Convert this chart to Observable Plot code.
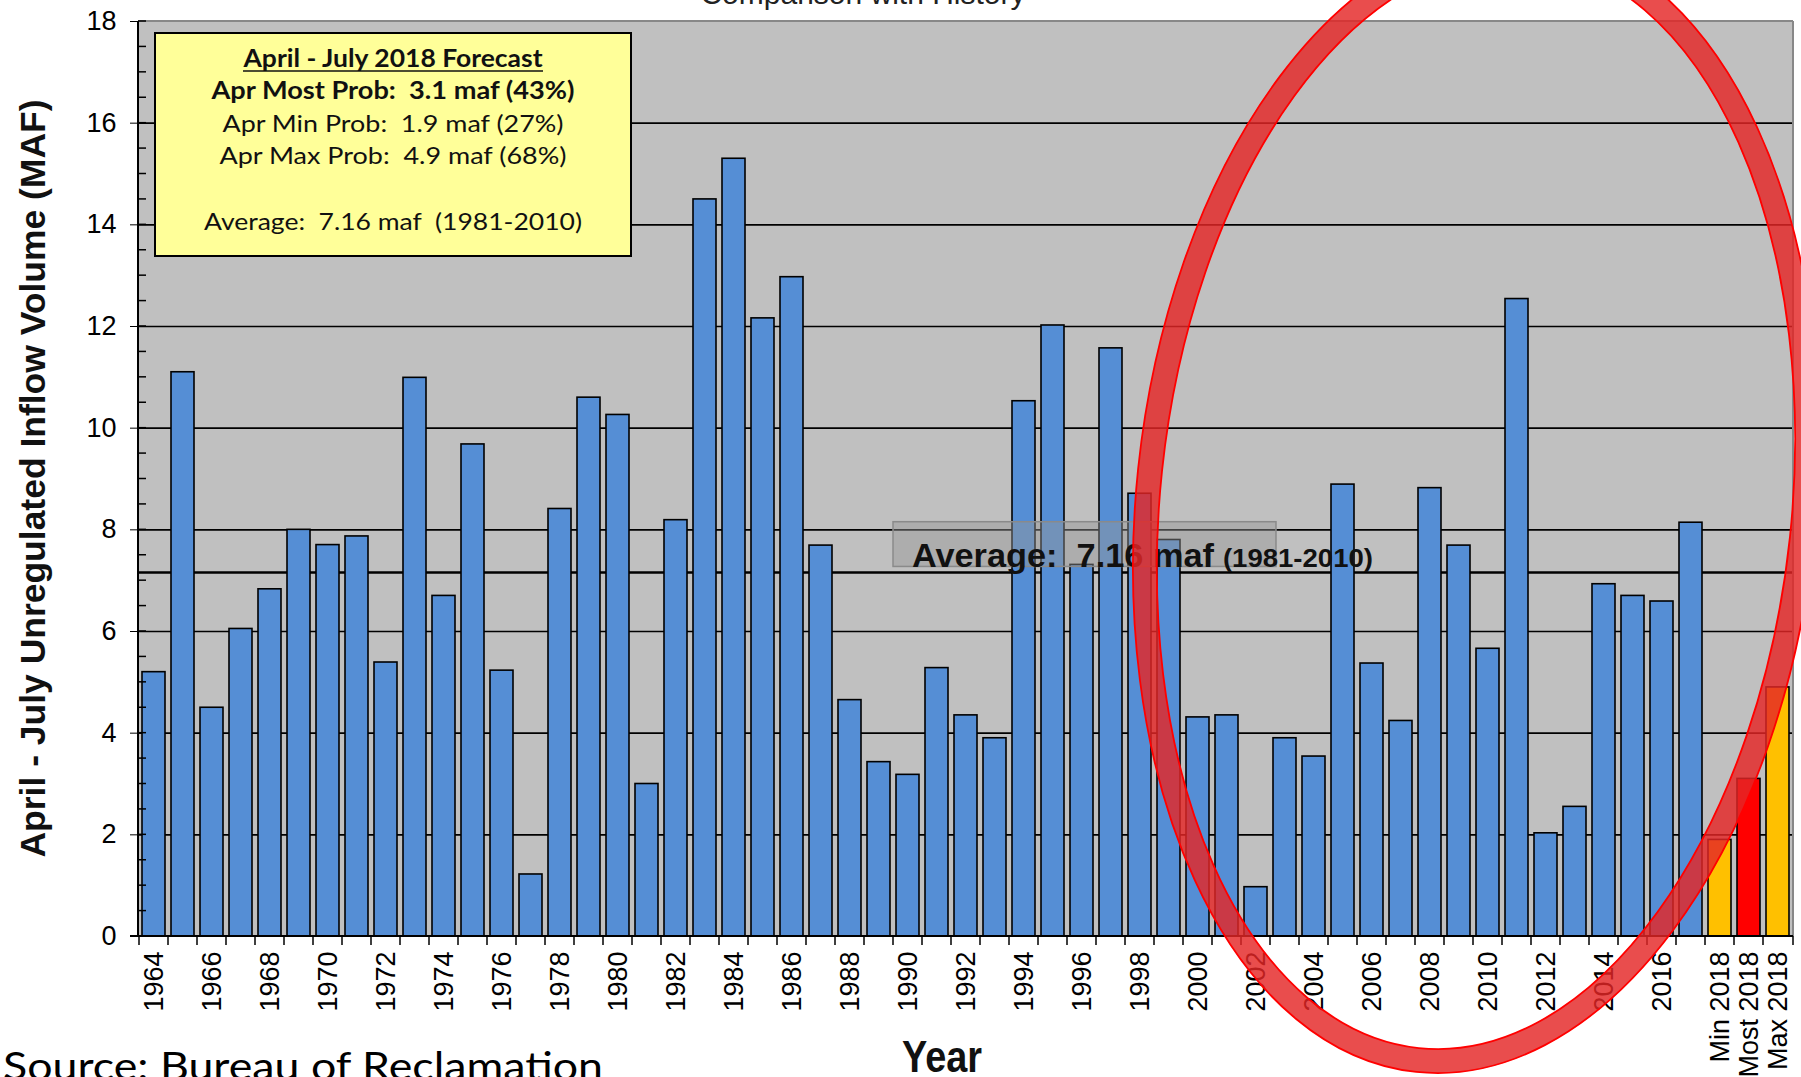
<!DOCTYPE html>
<html>
<head>
<meta charset="utf-8">
<script src="https://cdn.jsdelivr.net/npm/d3@7"></script>
<script src="https://cdn.jsdelivr.net/npm/@observablehq/plot@0.6"></script>
<style>
  html, body { margin: 0; padding: 0; background: #ffffff; overflow: hidden; }
  #chart { width: 1801px; height: 1077px; position: relative; overflow: hidden; }
  #chart svg { overflow: hidden; }
</style>
</head>
<body>
<div id="chart"></div>
<script>
// ---------------- Data ----------------
const categories = [
  "1964","1965","1966","1967","1968","1969","1970","1971","1972","1973",
  "1974","1975","1976","1977","1978","1979","1980","1981","1982","1983",
  "1984","1985","1986","1987","1988","1989","1990","1991","1992","1993",
  "1994","1995","1996","1997","1998","1999","2000","2001","2002","2003",
  "2004","2005","2006","2007","2008","2009","2010","2011","2012","2013",
  "2014","2015","2016","2017","Min 2018","Most 2018","Max 2018"
];
const volumes = [
  5.2, 11.1, 4.5, 6.05, 6.83, 8.0, 7.7, 7.87, 5.39, 10.99,
  6.7, 9.68, 5.23, 1.22, 8.41, 10.6, 10.26, 3.0, 8.19, 14.5,
  15.3, 12.16, 12.97, 7.69, 4.65, 3.43, 3.18, 5.28, 4.35, 3.9,
  10.53, 12.02, 7.31, 11.57, 8.71, 7.8, 4.31, 4.35, 0.97, 3.9,
  3.54, 8.89, 5.37, 4.24, 8.82, 7.69, 5.66, 12.54, 2.03, 2.55,
  6.93, 6.7, 6.59, 8.14, 1.9, 3.1, 4.9
];
const tickLabels = [
  "1964","1966","1968","1970","1972","1974","1976","1978","1980","1982",
  "1984","1986","1988","1990","1992","1994","1996","1998","2000","2002",
  "2004","2006","2008","2010","2012","2014","2016","Min 2018","Most 2018","Max 2018"
];
const yTicks = [0, 2, 4, 6, 8, 10, 12, 14, 16, 18];
const averageValue = 7.16;
const averageLabelMain = "Average:  7.16 maf";
const averageLabelPeriod = "(1981-2010)";
const forecastTitle = "April - July 2018 Forecast";
const forecastLines = [
  "Apr Most Prob:  3.1 maf (43%)",
  "Apr Min Prob:  1.9 maf (27%)",
  "Apr Max Prob:  4.9 maf (68%)",
  "",
  "Average:  7.16 maf  (1981-2010)"
];
const chartTitle = "Comparison with History";
const yTitle = "April - July Unregulated Inflow Volume (MAF)";
const xTitle = "Year";
const sourceText = "Source: Bureau of Reclamation";

// ---------------- Styles ----------------
const colors = { history: "#558ed5", minmax: "#ffc000", most: "#ff0000" };
function kindOf(cat) {
  if (cat.startsWith("Most")) return "most";
  if (cat.startsWith("Min") || cat.startsWith("Max")) return "minmax";
  return "history";
}
const table = categories.map((c, i) => ({ category: c, value: volumes[i], kind: kindOf(c) }));

const W = 1801, H = 1077;
const plot = Plot.plot({
  width: W,
  height: H,
  marginLeft: 138,
  marginRight: 8,
  marginTop: 21,
  marginBottom: 141,
  style: { background: "transparent", fontFamily: "'Liberation Sans', Arial, sans-serif", color: "#000" },
  x: { type: "band", domain: categories, paddingInner: 0.22, paddingOuter: 0.11, label: null },
  y: { domain: [0, 18], label: null },
  marks: [
    Plot.frame({ fill: "#c0c0c0", stroke: null }),
    Plot.ruleY(yTicks.filter(v => v > 0 && v < 18), { stroke: "#000", strokeWidth: 1.6 }),
    Plot.ruleY([averageValue], { stroke: "#000", strokeWidth: 2.6 }),
    Plot.barY(table, { x: "category", y: "value", fill: d => colors[d.kind], stroke: "#000", strokeWidth: 1.6 }),
    Plot.axisY({ ticks: yTicks, tickSize: 8, tickPadding: 14, fontSize: 27, label: null, tickFormat: d => String(d) }),
    Plot.axisX({ ticks: tickLabels, tickSize: 0, tickPadding: 15, tickRotate: -90, fontSize: 27, label: null })
  ]
});
document.getElementById("chart").appendChild(plot);

// ---------------- Annotations via the plot's scales ----------------
const sx = plot.scale("x");
const sy = plot.scale("y");
const [xL, xR] = sx.range;
const yBottom = sy.apply(0), yTop = sy.apply(18);
const step = sx.step;
const svg = d3.select(plot);

const g = svg.append("g");
// top / right frame edges
g.append("line").attr("x1", xL).attr("x2", xR).attr("y1", yTop).attr("y2", yTop).attr("stroke", "#888").attr("stroke-width", 2);
g.append("line").attr("x1", xR).attr("x2", xR).attr("y1", yTop).attr("y2", yBottom).attr("stroke", "#888").attr("stroke-width", 2);
// left axis line & bottom axis line
g.append("line").attr("x1", xL).attr("x2", xL).attr("y1", yTop).attr("y2", yBottom).attr("stroke", "#000").attr("stroke-width", 2);
g.append("line").attr("x1", xL - 8).attr("x2", xR).attr("y1", yBottom).attr("y2", yBottom).attr("stroke", "#000").attr("stroke-width", 2);
// minor (inner) y ticks every 0.5
for (let v = 0; v <= 18; v += 0.5) {
  g.append("line").attr("x1", xL).attr("x2", xL + 8).attr("y1", sy.apply(v)).attr("y2", sy.apply(v)).attr("stroke", "#000").attr("stroke-width", 1.5);
}
// x ticks at band boundaries
categories.forEach((c) => {
  const bx = sx.apply(c) - (sx.step - sx.bandwidth) / 2;
  g.append("line").attr("x1", bx).attr("x2", bx).attr("y1", yBottom).attr("y2", yBottom + 9).attr("stroke", "#000").attr("stroke-width", 1.5);
});
g.append("line").attr("x1", xR).attr("x2", xR).attr("y1", yBottom).attr("y2", yBottom + 9).attr("stroke", "#000").attr("stroke-width", 1.5);

// Average label box + text
const boxL = sx.apply("1990") - (sx.step - sx.bandwidth) / 2;
const boxR = sx.apply("2003") + (sx.step - sx.bandwidth) / 2;
g.append("rect").attr("x", boxL).attr("y", sy.apply(8.15)).attr("width", boxR - boxL).attr("height", sy.apply(7.27) - sy.apply(8.15))
  .attr("fill", "rgba(150,150,150,0.45)").attr("stroke", "#8a8a8a").attr("stroke-width", 1.5);
const avgText = g.append("text").attr("x", sx.apply("1990") + 0.55 * step).attr("y", sy.apply(averageValue) - 5)
  .attr("text-anchor", "start")
  .attr("font-family", "'Liberation Sans', Arial, sans-serif").attr("font-weight", "bold").attr("fill", "#111");
avgText.append("tspan").attr("font-size", 33).attr("textLength", 302).attr("lengthAdjust", "spacingAndGlyphs")
  .style("white-space", "pre").text(averageLabelMain);
avgText.append("tspan").attr("font-size", 25).attr("dx", 9).attr("textLength", 150).attr("lengthAdjust", "spacingAndGlyphs")
  .text(averageLabelPeriod);

// Title (cropped at top, as in the reference)
svg.append("text").attr("x", 863).attr("y", 4).attr("text-anchor", "middle")
  .attr("font-family", "'Liberation Sans', Arial, sans-serif").attr("font-size", 30).attr("fill", "#222").text(chartTitle);

// Y title
svg.append("text").attr("transform", `translate(45,${(yTop + yBottom) / 2}) rotate(-90)`).attr("text-anchor", "middle")
  .attr("font-family", "'Liberation Sans Narrow', 'Liberation Sans', Arial, sans-serif").attr("font-weight", "bold")
  .attr("font-size", 35).attr("textLength", 758).attr("lengthAdjust", "spacingAndGlyphs").attr("fill", "#111").text(yTitle);

// X title
svg.append("text").attr("x", 942).attr("y", 1072).attr("text-anchor", "middle")
  .attr("font-family", "'Liberation Sans Narrow', 'Liberation Sans', Arial, sans-serif").attr("font-weight", "bold")
  .attr("font-size", 44).attr("textLength", 80).attr("lengthAdjust", "spacingAndGlyphs").attr("fill", "#111").text(xTitle);

// Source (cropped at bottom, as in the reference)
svg.append("text").attr("x", 3).attr("y", 1080).attr("text-anchor", "start")
  .attr("font-family", "Lato, 'Open Sans', sans-serif").attr("font-size", 38)
  .attr("textLength", 600).attr("lengthAdjust", "spacingAndGlyphs").attr("fill", "#000").text(sourceText);

// Forecast legend box
const lg = svg.append("g");
lg.append("rect").attr("x", 155).attr("y", 33).attr("width", 476).attr("height", 223)
  .attr("fill", "#ffff99").attr("stroke", "#000").attr("stroke-width", 2);
const cxBox = 393;
const lineSpecs = [
  { text: forecastTitle, y: 67, bold: true, len: 299 },
  { text: forecastLines[0], y: 99, bold: true, len: 363 },
  { text: forecastLines[1], y: 132, bold: false, len: 341 },
  { text: forecastLines[2], y: 164, bold: false, len: 347 },
  { text: forecastLines[4], y: 230, bold: false, len: 378 }
];
lineSpecs.forEach(s => {
  lg.append("text").attr("x", cxBox).attr("y", s.y).attr("text-anchor", "middle")
    .attr("font-family", "Lato, 'Open Sans', sans-serif").attr("font-size", 24)
    .attr("font-weight", s.bold ? "bold" : "normal").attr("fill", "#111")
    .attr("textLength", s.len).attr("lengthAdjust", "spacingAndGlyphs")
    .style("white-space", "pre").text(s.text);
});
lg.append("line").attr("x1", cxBox - 150).attr("x2", cxBox + 150).attr("y1", 71).attr("y2", 71).attr("stroke", "#111").attr("stroke-width", 1.6);

// Red ellipse highlight (data-space annotation)
const ellipse = { category: "2010", cy: 8.5, rxSteps: 11.3, ryValue: 11.0, angle: 6 };
const ecx = sx.apply(ellipse.category);
const ecy = sy.apply(ellipse.cy);
const erx = ellipse.rxSteps * step;
const ery = sy.apply(0) - sy.apply(ellipse.ryValue);
const eg = svg.append("g").attr("transform", `translate(${ecx},${ecy}) rotate(${ellipse.angle})`);
eg.append("ellipse").attr("rx", erx).attr("ry", ery).attr("fill", "none").attr("stroke", "rgb(228,38,38)").attr("stroke-opacity", 0.82).attr("stroke-width", 24);
eg.append("ellipse").attr("rx", erx + 12).attr("ry", ery + 12).attr("fill", "none").attr("stroke", "#ff0000").attr("stroke-width", 1.8);
eg.append("ellipse").attr("rx", erx - 12).attr("ry", ery - 12).attr("fill", "none").attr("stroke", "#ff0000").attr("stroke-width", 1.8);
</script>
</body>
</html>
